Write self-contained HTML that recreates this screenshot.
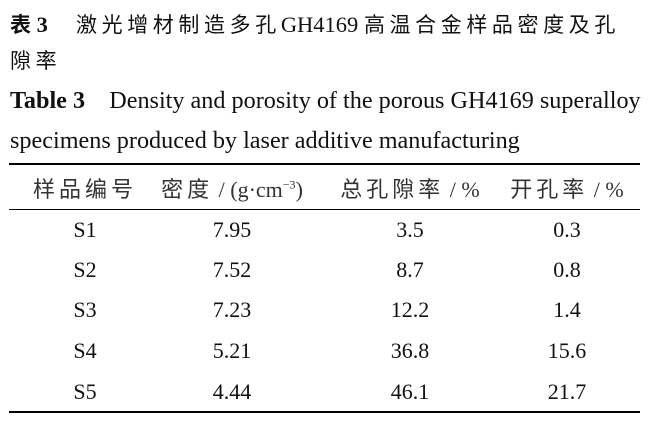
<!DOCTYPE html>
<html><head><meta charset="utf-8"><style>
body{margin:0;width:651px;height:423px;background:#fff;overflow:hidden;position:relative;font-family:"Liberation Serif","Noto Serif CJK SC",serif;color:#111}
.t{position:absolute;left:10px;white-space:nowrap}
.k{font-family:"Noto Sans CJK SC",sans-serif}
.c{position:absolute;transform:translateX(-50%);white-space:nowrap;font-size:22px}
.h .k{letter-spacing:4px;font-size:22px}
.s{letter-spacing:4.6px;font-size:21px}
.l{position:absolute;left:9px;width:631px;background:#000}
</style></head><body>
<div class="t" style="top:9px;font-size:22.5px"><b><span class="k" style="font-size:21px">表</span> 3</b>&nbsp;&nbsp;&nbsp;&nbsp;&nbsp;<span class="k s">激光增材制造多孔</span>GH4169 <span class="k s">高温合金样品密度及孔</span></div>
<div class="t" style="top:45px;font-size:21px"><span class="k s">隙率</span></div>
<div class="t" style="top:87px;font-size:24.2px"><b>Table 3</b>&nbsp;&nbsp;&nbsp; Density and porosity of the porous GH4169 superalloy</div>
<div class="t" style="top:127px;font-size:24.2px">specimens produced by laser additive manufacturing</div>
<div class="l" style="top:163px;height:2px"></div>
<div class="l" style="top:209px;height:1px"></div>
<div class="l" style="top:411px;height:2px"></div>
<div class="c h" style="left:85px;top:172px;color:#333"><span class="k">样品编号</span></div>
<div class="c h" style="left:232px;top:172px;color:#333"><span class="k">密度</span> / (g·cm<sup style="font-size:12px">−3</sup>)</div>
<div class="c h" style="left:410px;top:172px;color:#333"><span class="k">总孔隙率</span> / %</div>
<div class="c h" style="left:567px;top:172px;color:#333"><span class="k">开孔率</span> / %</div>
<div class="c" style="left:85px;top:217px">S1</div><div class="c" style="left:232px;top:217px">7.95</div><div class="c" style="left:410px;top:217px">3.5</div><div class="c" style="left:567px;top:217px">0.3</div>
<div class="c" style="left:85px;top:257px">S2</div><div class="c" style="left:232px;top:257px">7.52</div><div class="c" style="left:410px;top:257px">8.7</div><div class="c" style="left:567px;top:257px">0.8</div>
<div class="c" style="left:85px;top:297px">S3</div><div class="c" style="left:232px;top:297px">7.23</div><div class="c" style="left:410px;top:297px">12.2</div><div class="c" style="left:567px;top:297px">1.4</div>
<div class="c" style="left:85px;top:338px">S4</div><div class="c" style="left:232px;top:338px">5.21</div><div class="c" style="left:410px;top:338px">36.8</div><div class="c" style="left:567px;top:338px">15.6</div>
<div class="c" style="left:85px;top:379px">S5</div><div class="c" style="left:232px;top:379px">4.44</div><div class="c" style="left:410px;top:379px">46.1</div><div class="c" style="left:567px;top:379px">21.7</div>
</body></html>
